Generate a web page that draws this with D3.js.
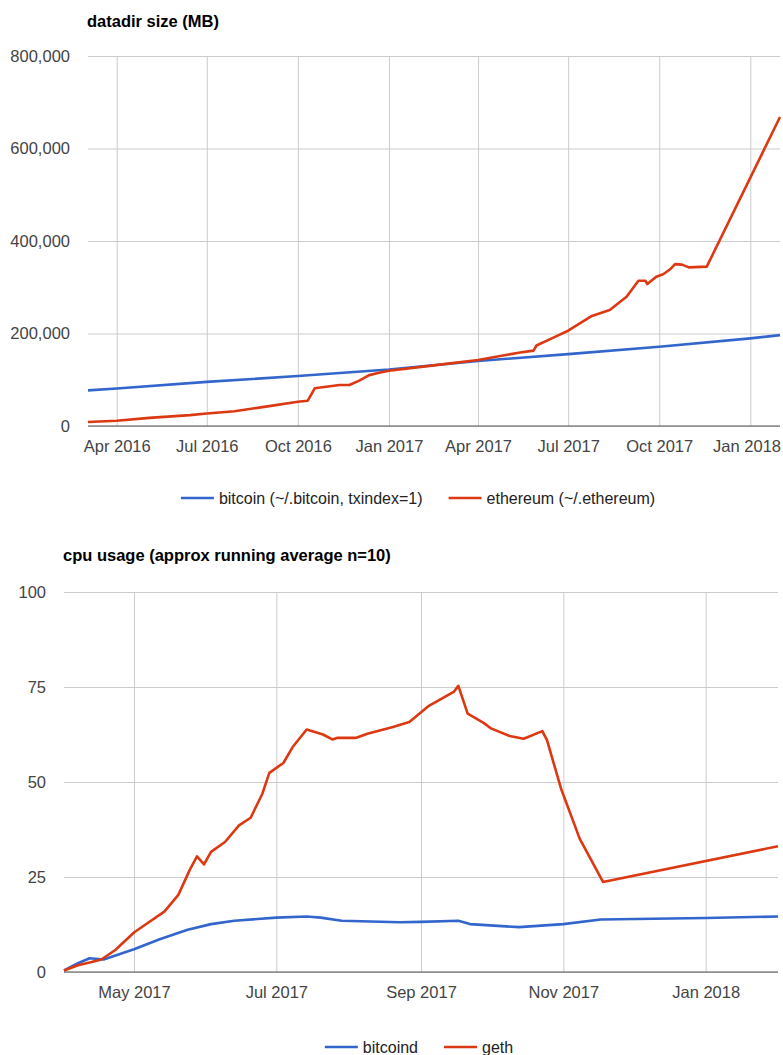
<!DOCTYPE html>
<html>
<head>
<meta charset="utf-8">
<script src="https://cdn.jsdelivr.net/npm/d3@7"></script>
<style>
  body { margin: 0; background: #fff; }
  svg { font-family: "Liberation Sans", Arial, sans-serif; }
  .grid line { stroke: #cccccc; stroke-width: 1; }
  .tick text { fill: #444; font-size: 16.5px; }
</style>
</head>
<body>
<svg id="chart" width="783" height="1055"></svg>
<script>
// datadir size (MB)
var sizeDomain = ["2016-03-03", "2018-01-31"];
var sizeTicksY = [0, 200000, 400000, 600000, 800000];
var sizeTicksX = ["2016-04-01", "2016-07-01", "2016-10-01", "2017-01-01", "2017-04-01", "2017-07-01", "2017-10-01", "2018-01-01"];

var btcDates = ["2016-03-03", "2016-04-01", "2016-07-01", "2016-10-01", "2017-01-01", "2017-04-01", "2017-07-01", "2017-10-01", "2018-01-01", "2018-01-31"];
var btcSize = [77000, 81000, 95500, 108000, 122000, 140500, 155500, 171500, 189500, 196500];

var ethDates = ["2016-03-03", "2016-04-01", "2016-05-04", "2016-06-14", "2016-07-01", "2016-07-29", "2016-09-02", "2016-10-01",
  "2016-10-11", "2016-10-18", "2016-11-12", "2016-11-22", "2016-12-02", "2016-12-12", "2016-12-22", "2017-01-01",
  "2017-02-11", "2017-04-01", "2017-04-15", "2017-05-12", "2017-05-27", "2017-05-30", "2017-06-15", "2017-07-01",
  "2017-07-25", "2017-08-12", "2017-08-29", "2017-09-10", "2017-09-17", "2017-09-19", "2017-09-28", "2017-10-05",
  "2017-10-12", "2017-10-17", "2017-10-24", "2017-10-31", "2017-11-18", "2018-01-31"];
var ethSize = [8500, 11500, 17500, 23500, 27000, 32000, 43000, 52500,
  54700, 81500, 88600, 88600, 98000, 110000, 115000, 119500,
  130000, 142700, 148000, 158500, 163000, 174000, 190000, 206000,
  238000, 250800, 279600, 314000, 314000, 307000, 322800, 328000,
  338800, 350000, 349000, 343000, 344500, 668000];

// cpu usage
var cpuDomain = ["2017-04-01", "2018-02-01"];
var cpuTicksY = [0, 25, 50, 75, 100];
var cpuTicksX = ["2017-05-01", "2017-07-01", "2017-09-01", "2017-11-01", "2018-01-01"];

var bitcoindDates = ["2017-04-01", "2017-04-07", "2017-04-12", "2017-04-18", "2017-05-01", "2017-05-12", "2017-05-24",
  "2017-06-03", "2017-06-13", "2017-07-01", "2017-07-14", "2017-07-20", "2017-07-29", "2017-08-23", "2017-09-01",
  "2017-09-17", "2017-09-22", "2017-10-13", "2017-11-01", "2017-11-17", "2018-01-01", "2018-02-01"];
var bitcoindCpu = [0.4, 2.3, 3.6, 3.3, 6.0, 8.6, 11.1,
  12.6, 13.5, 14.3, 14.6, 14.3, 13.5, 13.1, 13.2,
  13.5, 12.6, 11.8, 12.6, 13.8, 14.2, 14.6];

var gethDates = ["2017-04-01", "2017-04-07", "2017-04-12", "2017-04-17", "2017-04-23", "2017-05-01", "2017-05-05",
  "2017-05-14", "2017-05-20", "2017-05-25", "2017-05-28", "2017-05-31", "2017-06-03", "2017-06-09", "2017-06-15",
  "2017-06-20", "2017-06-25", "2017-06-28", "2017-07-04", "2017-07-08", "2017-07-14", "2017-07-21", "2017-07-25",
  "2017-07-27", "2017-08-04", "2017-08-09", "2017-08-20", "2017-08-27", "2017-09-04", "2017-09-15", "2017-09-17",
  "2017-09-21", "2017-09-28", "2017-10-01", "2017-10-09", "2017-10-15", "2017-10-23", "2017-10-25", "2017-10-31",
  "2017-11-08", "2017-11-18", "2018-02-01"];
var gethCpu = [0.4, 1.8, 2.5, 3.3, 5.8, 10.4, 12.1,
  15.9, 20.3, 27.0, 30.4, 28.3, 31.6, 34.2, 38.6,
  40.6, 46.9, 52.4, 55.0, 59.2, 63.8, 62.5, 61.2,
  61.6, 61.6, 62.7, 64.5, 65.8, 69.9, 73.7, 75.3,
  68.0, 65.5, 64.1, 62.1, 61.4, 63.4, 61.0, 48.3,
  35.1, 23.7, 33.1];

var BLUE = "#3366cc", RED = "#dc3912";
var parse = d3.timeParse("%Y-%m-%d");
var svg = d3.select("#chart");

function zip(dates, vals) {
  return dates.map((d, i) => ({ date: parse(d), value: vals[i] }));
}

function drawChart(opt) {
  var g = svg.append("g");
  var w = opt.right - opt.left, h = opt.bottom - opt.top;

  var x = d3.scaleTime().domain(opt.domain.map(parse)).range([opt.left, opt.right]);
  var y = d3.scaleLinear().domain([0, d3.max(opt.yTicks)]).range([opt.bottom, opt.top]);

  g.append("text")
    .attr("x", opt.left - 1).attr("y", opt.titleY)
    .attr("font-weight", "bold").attr("font-size", "16.5px").attr("fill", "#000")
    .text(opt.title);

  // horizontal grid + y labels
  var ya = g.append("g").attr("class", "grid")
    .attr("transform", "translate(" + opt.left + ",0)")
    .call(d3.axisLeft(y).tickValues(opt.yTicks).tickSize(-w).tickPadding(18).tickFormat(d3.format(",")));
  ya.select(".domain").remove();

  // vertical grid + x labels
  var xa = g.append("g").attr("class", "grid")
    .attr("transform", "translate(0," + opt.bottom + ")")
    .call(d3.axisBottom(x).tickValues(opt.xTicks.map(parse)).tickSize(-h).tickPadding(14).tickFormat(d3.timeFormat("%b %Y")));
  xa.select(".domain").remove();

  // keep the last label inside the plot's right edge, like the original does
  xa.selectAll(".tick").each(function () {
    var tick = d3.select(this);
    var pos = +tick.attr("transform").match(/translate\(([-\d.]+)/)[1];
    var t = tick.select("text");
    var half = t.node().getComputedTextLength() / 2;
    if (pos + half > opt.right + 1) t.attr("x", opt.right + 1 - half - pos);
  });

  // baseline
  g.append("line")
    .attr("x1", opt.left).attr("x2", opt.right)
    .attr("y1", y(0)).attr("y2", y(0))
    .attr("stroke", "#555").attr("stroke-width", 1.2);

  var line = d3.line().x(d => x(d.date)).y(d => y(d.value));

  opt.series.forEach(s => {
    g.append("path")
      .datum(s.data)
      .attr("d", line)
      .attr("fill", "none")
      .attr("stroke", s.color)
      .attr("stroke-width", 2.6)
      .attr("stroke-linejoin", "round");
  });

  // legend
  var lg = g.append("g");
  var cx = 0;
  opt.series.forEach((s, i) => {
    var item = lg.append("g").attr("transform", "translate(" + cx + ",0)");
    item.append("line").attr("x1", 0).attr("x2", 33).attr("y1", 0).attr("y2", 0)
      .attr("stroke", s.color).attr("stroke-width", 2.6);
    var t = item.append("text").attr("x", 38).attr("y", 0).attr("dy", "0.35em")
      .attr("font-size", "16px").attr("fill", "#222").text(s.name);
    cx += 38 + t.node().getComputedTextLength() + 26;
  });
  var total = cx - 26;
  lg.attr("transform", "translate(" + (opt.legendCenter - total / 2) + "," + opt.legendY + ")");
}

drawChart({
  title: "datadir size (MB)", titleY: 27,
  left: 88, right: 780, top: 56, bottom: 426,
  domain: sizeDomain, xTicks: sizeTicksX, yTicks: sizeTicksY,
  legendY: 498, legendCenter: 418,
  series: [
    { name: "bitcoin (~/.bitcoin, txindex=1)", color: BLUE, data: zip(btcDates, btcSize) },
    { name: "ethereum (~/.ethereum)", color: RED, data: zip(ethDates, ethSize) }
  ]
});

drawChart({
  title: "cpu usage (approx running average n=10)", titleY: 561,
  left: 64, right: 778, top: 592, bottom: 972,
  domain: cpuDomain, xTicks: cpuTicksX, yTicks: cpuTicksY,
  legendY: 1047, legendCenter: 419,
  series: [
    { name: "bitcoind", color: BLUE, data: zip(bitcoindDates, bitcoindCpu) },
    { name: "geth", color: RED, data: zip(gethDates, gethCpu) }
  ]
});
</script>
</body>
</html>
